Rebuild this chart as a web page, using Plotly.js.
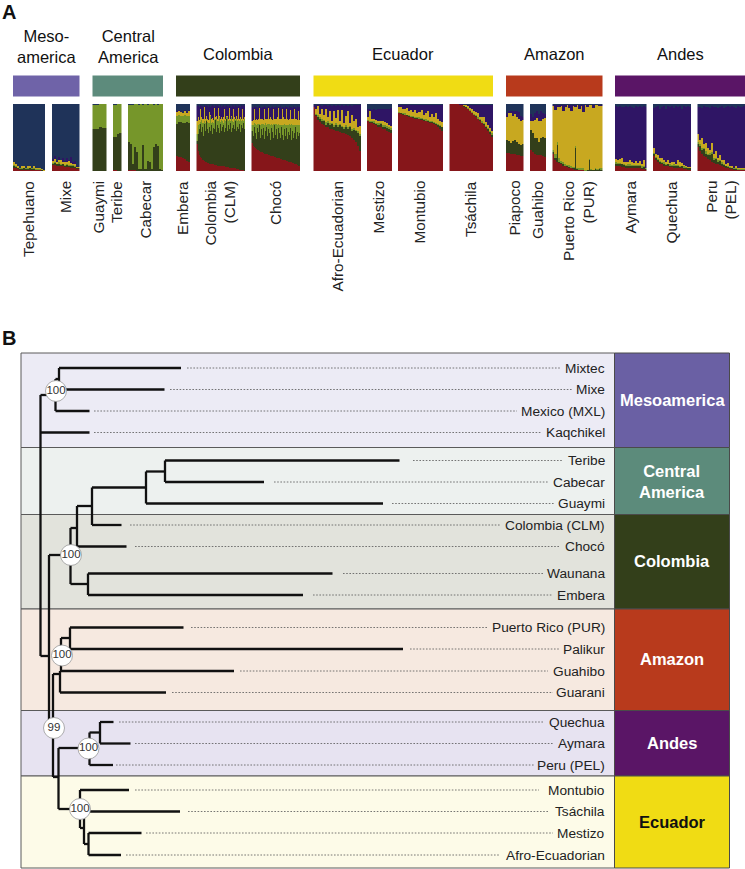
<!DOCTYPE html>
<html><head><meta charset="utf-8">
<script src="https://cdn.plot.ly/plotly-3.0.1.min.js"></script>
<style>html,body{margin:0;padding:0;background:#fff}#c{width:745px;height:869px}</style>
</head><body><div id="c"></div>
<script>
// ---------- Panel A: ancestry proportions (%) per sampled column; omitted cluster = remainder
const clusterNames=['red','dgreen','lgreen','yellow','purple','navy'];
const tepehuano_red=[4,4,3,2,2,2,2,2,2,2,2,1,1,1,0,0];
const tepehuano_dgreen=[3,2,1,1,1,2,1,1,2,1,1,1,1,1,1,0];
const tepehuano_lgreen=[2,2,1,1,1,1,1,1,1,1,2,1,1,1,1,0];
const tepehuano_yellow=[4,3,2,1,3,2,1,3,3,1,3,2,2,1,1,2];
const mixe_red=[9,9,8,8,7,7,6,6,6,5,5,4,3,3];
const mixe_dgreen=[2,3,2,3,2,3,2,3,2,3,3,2,1,1];
const mixe_lgreen=[1,1,1,2,1,1,1,2,1,1,1,1,1,1];
const mixe_yellow=[3,5,2,3,6,2,4,2,6,3,2,3,1,1];
const mixe_purple=[3,4,2,5,1,7,2,6,2,9,3,5,2,0];
const guaymi_dgreen=[62,62,63,65,65,64,64];
const guaymi_navy=[2,2,1,0,0,0,0];
const teribe_red=[1,1,0,0];
const teribe_dgreen=[50,50,55,56];
const teribe_navy=[2,1,0,0];
const cabecar_red=[2,2,2,1,0,0,0,0,0,0,0,0,0,0,0,0,0];
const cabecar_dgreen=[41,39,8,35,29,3,3,39,3,15,14,3,36,40,38,3,2];
const cabecar_navy=[1,1,2,0,0,1,0,2,0,1,0,0,1,0,1,0,0];
const embera_red=[22,21,21,20,18,15,14];
const embera_dgreen=[48,52,52,52,54,58,58];
const embera_lgreen=[12,10,9,10,11,9,10];
const embera_yellow=[6,7,6,4,7,5,8];
const embera_purple=[1,1,1,1,1,1,1];
const clm_red=[40,30,24,21,19,17,16,15,14,13,12,12,11,11,10,10,10,9,9,9,8,8,8,8,7,7,7,7,6,6,6,6,5,5,5,5,4,4,4,3,3,3,2,2,2,1,1,0];
const clm_dgreen=[5,25,38,49,39,49,36,55,46,61,51,44,55,49,58,45,54,53,67,49,60,56,48,62,53,59,61,51,58,72,54,62,57,67,53,59,64,58,70,57,63,59,68,56,66,63,71,62];
const clm_lgreen=[10,14,8,3,18,6,20,5,12,2,10,16,6,22,3,18,8,14,2,20,6,10,24,3,16,8,4,18,10,2,20,6,14,3,22,10,5,16,2,18,8,14,4,20,6,12,3,16];
const clm_yellow=[20,12,6,20,4,6,6,20,6,6,4,4,16,2,6,6,4,18,2,4,4,20,2,4,4,4,8,16,4,2,2,4,18,3,2,4,20,2,2,4,4,18,4,2,4,16,3,2];
const clm_navy=[3,2,4,2,3,3,5,2,3,2,3,4,2,5,3,2,3,4,2,3,2,3,5,2,4,3,2,5,3,2,3,4,2,3,5,2,3,4,2,3,5,2,3,4,2,3,2,3];
const choco_red=[42,38,36,34,33,32,31,30,29,28,28,27,26,26,25,25,24,24,23,23,22,22,21,21,20,20,19,19,18,18,17,17,16,16,15,15,14,14,13,13,12,12,11,10,10,9,8,7];
const choco_dgreen=[18,14,30,22,15,32,27,38,21,34,26,37,22,34,41,27,38,32,23,41,36,28,47,33,42,28,45,37,32,48,37,29,46,36,49,33,44,40,51,33,48,38,45,56,38,49,44,49];
const choco_lgreen=[8,16,5,14,20,6,12,2,18,8,16,6,20,12,3,18,8,14,22,6,10,20,2,16,8,20,6,12,18,3,14,22,8,16,4,20,10,16,5,24,8,18,12,3,20,10,16,12];
const choco_yellow=[6,8,22,6,10,6,8,24,10,8,8,6,24,6,9,8,24,8,12,8,8,22,8,8,8,12,24,10,10,9,24,12,8,10,24,10,8,8,22,8,10,10,24,9,10,8,22,8];
const choco_navy=[4,6,3,5,4,6,5,3,4,6,5,4,3,5,6,4,3,5,6,4,3,6,4,5,3,6,4,5,3,6,4,5,6,3,5,4,6,3,5,4,6,3,5,4,6,3,5,4];
const afro_red=[95,82,76,73,70,68,66,65,63,62,61,60,59,58,57,56,55,53,52,50,47,44,38,30];
const afro_dgreen=[0,2,4,5,4,6,3,7,5,8,5,9,6,10,8,6,11,10,13,9,14,15,18,22];
const afro_lgreen=[0,1,3,2,3,2,4,2,3,2,3,2,4,2,2,3,2,3,2,3,3,2,3,3];
const afro_yellow=[1,8,14,5,16,7,20,6,18,3,20,8,22,4,24,6,14,24,5,22,10,16,6,12];
const afro_navy=[1,2,1,2,3,2,2,3,2,3,2,3,2,3,2,3,2,3,2,3,2,2,2,2];
const mestizo_red=[74,72,71,70,68,66,65,63,62,60,58,56];
const mestizo_dgreen=[1,1,2,2,2,3,5,2,3,4,5,5];
const mestizo_lgreen=[1,2,1,2,2,3,2,4,3,3,3,3];
const mestizo_yellow=[4,14,4,3,4,2,3,6,5,4,3,3];
const mestizo_navy=[7,8,9,8,9,7,8,7,8,7,7,6];
const montubio_red=[86,85,84,83,82,81,80,79,78,77,77,76,75,74,73,72,71,70,68,66,63,60];
const montubio_dgreen=[1,1,1,1,1,1,1,1,1,2,1,2,1,1,2,1,2,1,2,2,4,5];
const montubio_lgreen=[1,1,1,2,1,2,1,2,1,2,2,1,2,2,1,2,1,2,1,2,1,1];
const montubio_yellow=[7,8,6,7,10,5,9,6,11,5,8,12,6,9,14,6,11,7,15,8,6,7];
const montubio_navy=[2,2,2,2,2,2,2,2,2,2,2,2,2,2,2,2,2,2,2,2,2,2];
const tsachila_red=[100,100,100,100,100,99,98,96,94,92,89,86,83,80,77,74,71,68,64,60,55,51];
const tsachila_dgreen=[0,0,0,0,0,0,0,1,1,1,1,1,1,2,1,2,1,2,2,2,3,3];
const tsachila_lgreen=[0,0,0,0,0,0,0,0,1,1,1,1,1,1,2,1,2,2,1,2,2,2];
const tsachila_yellow=[0,0,0,0,0,0,1,2,2,3,3,5,4,5,6,4,7,8,6,5,4,3];
const tsachila_navy=[0,0,0,0,0,0,0,1,1,1,1,1,1,1,1,1,1,1,1,1,1,1];
const piapoco_red=[27,27,26,25,25,24,24,23,23];
const piapoco_dgreen=[20,18,16,20,22,20,16,16,18];
const piapoco_yellow=[34,42,44,37,38,37,38,36,35];
const piapoco_purple=[6,3,4,8,5,9,10,7,4];
const guahibo_red=[31,29,26,24,24,24,22,21];
const guahibo_dgreen=[30,27,24,25,20,25,29,29];
const guahibo_yellow=[14,18,26,30,30,26,26,29];
const guahibo_purple=[10,7,10,10,11,14,9,6];
const pur_red=[26,17,14,12,10,8,7,6,5,4,3,2,2,1,1,1,0,0,0,0,0,0,0,0,0];
const pur_dgreen=[2,3,25,2,2,2,1,1,1,1,1,33,1,1,1,1,0,1,16,1,1,3,1,3,1];
const pur_lgreen=[4,6,4,5,3,4,3,2,3,2,2,2,2,2,3,2,2,1,2,2,1,2,2,1,3];
const pur_purple=[1,8,2,3,1,9,2,1,4,10,1,3,0,6,1,11,1,2,0,1,4,1,0,1,2];
const pur_navy=[2,1,2,1,2,1,2,1,2,1,2,1,2,1,2,1,1,2,1,1,2,1,1,2,1];
const aymara_red=[8,7,7,6,6,5,5,5,5,5,4,4,4,3,3,2];
const aymara_dgreen=[3,3,3,4,3,2,3,3,3,2,4,3,3,2,3,1];
const aymara_lgreen=[2,2,2,1,2,2,2,2,1,2,1,2,2,2,2,1];
const aymara_yellow=[5,4,6,8,3,4,3,6,5,3,6,3,6,3,8,1];
const aymara_navy=[3,5,3,4,5,3,5,3,4,6,3,4,3,5,3,4];
const quechua_red=[22,16,13,11,10,8,7,7,6,6,5,5,5,4,4,3,3,2,2];
const quechua_dgreen=[3,3,3,3,2,3,2,3,2,2,3,3,2,2,3,2,2,2,2];
const quechua_lgreen=[2,2,2,1,2,2,2,1,2,1,2,1,2,2,1,2,1,1,1];
const quechua_yellow=[8,5,6,4,6,3,3,6,2,5,3,2,7,5,4,2,2,1,1];
const quechua_navy=[6,4,3,8,4,3,7,3,5,3,6,3,4,3,8,3,4,3,5];
const pel_red=[36,30,26,23,21,18,16,14,12,11,10,9,7,6,5,4,3,3,2,2,1,1,1,1];
const pel_dgreen=[4,8,6,10,5,6,8,12,5,7,3,6,4,3,2,2,2,1,1,1,1,1,1,1];
const pel_lgreen=[3,2,3,2,4,2,3,2,3,2,3,2,2,2,1,2,1,1,1,1,1,1,1,1];
const pel_yellow=[12,6,15,5,12,8,4,14,6,10,4,7,3,5,2,4,2,3,1,3,1,2,1,1];
const pel_navy=[5,4,6,3,5,4,6,3,5,4,6,4,3,6,4,3,5,3,4,6,3,4,5,3];

const panelNames=['Tepehuano','Mixe','Guaymi','Teribe','Cabecar','Embera','Colombia<br>(CLM)','Chocó','Afro-Ecuadorian','Mestizo','Montubio','Tsáchila','Piapoco','Guahibo','Puerto Rico<br>(PUR)','Aymara','Quechua','Peru<br>(PEL)'];
const panelSeries=[
 {red:tepehuano_red,dgreen:tepehuano_dgreen,lgreen:tepehuano_lgreen,yellow:tepehuano_yellow,rest:'navy'},
 {red:mixe_red,dgreen:mixe_dgreen,lgreen:mixe_lgreen,yellow:mixe_yellow,purple:mixe_purple,rest:'navy'},
 {dgreen:guaymi_dgreen,navy:guaymi_navy,rest:'lgreen'},
 {red:teribe_red,dgreen:teribe_dgreen,navy:teribe_navy,rest:'lgreen'},
 {red:cabecar_red,dgreen:cabecar_dgreen,navy:cabecar_navy,rest:'lgreen'},
 {red:embera_red,dgreen:embera_dgreen,lgreen:embera_lgreen,yellow:embera_yellow,purple:embera_purple,rest:'navy'},
 {red:clm_red,dgreen:clm_dgreen,lgreen:clm_lgreen,yellow:clm_yellow,navy:clm_navy,rest:'purple'},
 {red:choco_red,dgreen:choco_dgreen,lgreen:choco_lgreen,yellow:choco_yellow,navy:choco_navy,rest:'purple'},
 {red:afro_red,dgreen:afro_dgreen,lgreen:afro_lgreen,yellow:afro_yellow,navy:afro_navy,rest:'purple'},
 {red:mestizo_red,dgreen:mestizo_dgreen,lgreen:mestizo_lgreen,yellow:mestizo_yellow,navy:mestizo_navy,rest:'purple'},
 {red:montubio_red,dgreen:montubio_dgreen,lgreen:montubio_lgreen,yellow:montubio_yellow,navy:montubio_navy,rest:'purple'},
 {red:tsachila_red,dgreen:tsachila_dgreen,lgreen:tsachila_lgreen,yellow:tsachila_yellow,navy:tsachila_navy,rest:'purple'},
 {red:piapoco_red,dgreen:piapoco_dgreen,yellow:piapoco_yellow,purple:piapoco_purple,rest:'navy'},
 {red:guahibo_red,dgreen:guahibo_dgreen,yellow:guahibo_yellow,purple:guahibo_purple,rest:'navy'},
 {red:pur_red,dgreen:pur_dgreen,lgreen:pur_lgreen,purple:pur_purple,navy:pur_navy,rest:'yellow'},
 {red:aymara_red,dgreen:aymara_dgreen,lgreen:aymara_lgreen,yellow:aymara_yellow,navy:aymara_navy,rest:'purple'},
 {red:quechua_red,dgreen:quechua_dgreen,lgreen:quechua_lgreen,yellow:quechua_yellow,navy:quechua_navy,rest:'purple'},
 {red:pel_red,dgreen:pel_dgreen,lgreen:pel_lgreen,yellow:pel_yellow,navy:pel_navy,rest:'purple'}
];

// ---------- Panel B: tree
const leafNames=['Mixtec','Mixe','Mexico (MXL)','Kaqchikel','Teribe','Cabecar','Guaymi','Colombia (CLM)','Chocó','Waunana','Embera','Puerto Rico (PUR)','Palikur','Guahibo','Guarani','Quechua','Aymara','Peru (PEL)','Montubio','Tsáchila','Mestizo','Afro-Ecuadorian'];
const leafRow=[368,389.5,411,432.5,460.5,482,503.5,525,546.5,573.5,595,627.5,649,671,692.5,722,743.5,765,790,811.5,833,855];
const leafTip=[181,164.5,89.5,89.5,399.5,264,383,121.5,126.5,332.5,303,183.5,403,234,166,113.5,130.5,113,129,180,141.5,121];
const leafBase=[59,59,55.5,40.5,165,165,146,92,77,88,88,70,70,61,60,100,100,89.5,80,80,88.5,88.5];
const dotStart=[187,170,94,94,413,274,392,130,135,343,313,191,410,240,172,119,135,116,135,188,146,126];
const dotEnd=[560,572,517,541,563,548,554,500.5,560,543,553,488.5,560,548,553,544.5,554,535,539,549.5,553,500];
// internal tree branches: [x1,y1,x2,y2]
const branches=[
 [59,368,59,389.5],[55.5,379,59,379],[55.5,379,55.5,411],[40.5,395,55.5,395],[40.5,395,40.5,656],[40.5,656,49,656],
 [49,555,49,728],[49,555,70.5,555],[70.5,528,70.5,584],[70.5,528,77,528],[77,506,77,546.5],[77,506,92,506],[92,487.5,92,525],
 [92,487.5,146,487.5],[146,471.5,146,503.5],[146,471.5,165,471.5],[165,460.5,165,482],[70.5,584,88,584],[88,573.5,88,595],
 [49,728,53,728],[53,674,53,777],[53,674,60,674],[60,671,60,692.5],[61,638,61,671],[61,638,70,638],[70,627.5,70,649],
 [53,777,58.5,777],[58.5,748,58.5,809],[58.5,748,89.5,748],[89.5,732.5,89.5,765],[89.5,732.5,100,732.5],[100,722,100,743.5],
 [58.5,809,80,809],[80,790,80,828],[80,828,84,828],[84,815,84,844],[84,844,88.5,844],[88.5,833,88.5,855]
];
const supportX=[56,71,62,54,88.5,80];
const supportY=[391,555,655.5,728,748.5,809];
const supportText=['100','100','100','99','100','100'];

// ---------- Labels / regions
const groupNames=['Meso-<br>america','Central<br>America','Colombia','Ecuador','Amazon','Andes'];
const groupColors=['#6f63a8','#5d8b7c','#333f1a','#f0dc14','#b83a1c','#5a1566'];
const regionNames=['Mesoamerica','Central<br>America','Colombia','Amazon','Andes','Ecuador'];
const regionFills=['#ecebf5','#edf1ef','#e2e3dc','#f6e9e0','#e7e3f1','#fdfbe8'];
const regionColors=['#6a60a4','#5c8b7b','#333f1a','#b83a1c','#5a1566','#f0dc14'];

// ---------- Layout geometry (page pixels)
const W=745,H=869,FONT='"Liberation Sans",Arial,sans-serif';
const panelX=[[13,45.3],[52,79.5],[92.5,106.5],[113,121.5],[128,163],[176,190],[196.5,245],[251.5,300],[313.5,361],[367,392],[398,443],[449.5,493],[506,523.5],[530,546],[552.5,602.5],[615,646.5],[653,691],[697.5,745]];
const labelX=[28,65,98,116,144.5,182,220,275,337,378,419,470,514,537,578,630,671,721];
const groupX=[[13,79.5],[92.5,163],[176,300],[313.5,493],[506,602.5],[615,745]];
const groupTitleX=[46.5,128,238,403,554,680];
const groupTitleY=[46.5,46.5,54,54,54,54];
const regionY=[353,447.5,514.5,609,710.5,776,868];
const regionLabelY=[400,481,561,659,743,822];
const clusterColor={red:'#86161a',dgreen:'#333f1a',lgreen:'#76962a',yellow:'#c8a820',purple:'#2f1565',navy:'#1f3359'};

const traces=[];const layout={
 width:W,height:H,margin:{l:0,r:0,t:0,b:0},showlegend:false,barmode:'stack',bargap:0,
 paper_bgcolor:'#fff',plot_bgcolor:'rgba(0,0,0,0)',hovermode:false,
 font:{family:FONT,color:'#111'},
 xaxis:{range:[0,W],domain:[0,1],visible:false,fixedrange:true},
 yaxis:{range:[H,0],domain:[0,1],visible:false,fixedrange:true},
 yaxis2:{range:[0,100],domain:[1-171/H,1-104/H],visible:false,fixedrange:true},
 shapes:[],annotations:[]
};
const ann=(x,y,text,o)=>layout.annotations.push(Object.assign({x,y,text,xref:'x',yref:'y',showarrow:false,borderpad:0},o));

// structure panels
panelSeries.forEach((s,i)=>{
  const id=i+2,ax='xaxis'+id,n=s[Object.keys(s).find(k=>k!=='rest')].length;
  layout[ax]={domain:[panelX[i][0]/W,panelX[i][1]/W],range:[-0.5,n-0.5],visible:false,anchor:'y2',fixedrange:true};
  const cols=[...Array(n).keys()];
  clusterNames.forEach(c=>{
    let y;
    if(c===s.rest) y=cols.map(j=>Math.max(0,100-clusterNames.filter(k=>k!==c&&s[k]).reduce((a,k)=>a+s[k][j],0)));
    else if(s[c]) y=s[c]; else return;
    traces.push({type:'bar',x:cols,y,xaxis:'x'+id,yaxis:'y2',marker:{color:clusterColor[c],line:{width:0}},width:1.02});
  });
  ann(labelX[i],180,panelNames[i],{textangle:-90,xanchor:'center',yanchor:'top',align:'right',font:{size:15.3,color:'#222'}});
});

// group bars + titles
groupX.forEach((g,i)=>{
  layout.shapes.push({type:'rect',xref:'x',yref:'y',x0:g[0],x1:g[1],y0:75.5,y1:96.5,fillcolor:groupColors[i],line:{width:0},layer:'below'});
  ann(groupTitleX[i],groupTitleY[i],groupNames[i],{xanchor:'center',yanchor:'middle',font:{size:16.5,color:'#111'}});
});

// regions
regionFills.forEach((f,i)=>{
  layout.shapes.push({type:'rect',xref:'x',yref:'y',x0:21,x1:614.5,y0:regionY[i],y1:regionY[i+1],fillcolor:f,line:{color:'#5a5a5a',width:1},layer:'below'});
  layout.shapes.push({type:'rect',xref:'x',yref:'y',x0:614.5,x1:729.5,y0:regionY[i],y1:regionY[i+1],fillcolor:regionColors[i],line:{color:'#4a4a4a',width:1},layer:'below'});
  ann(672,regionLabelY[i],regionNames[i],{xanchor:'center',yanchor:'middle',font:{size:16.5,color:i===5?'#111':'#fff',weight:700}});
});

// dotted leaders
const dx=[],dy=[];leafRow.forEach((y,i)=>{dx.push(dotStart[i],dotEnd[i],null);dy.push(y,y,null);});
traces.push({type:'scatter',mode:'lines',x:dx,y:dy,line:{color:'#555',width:0.8,dash:'1.6px,1.6px'}});
// tree
const tx=[],ty=[];
branches.forEach(b=>{tx.push(b[0],b[2],null);ty.push(b[1],b[3],null);});
leafRow.forEach((y,i)=>{tx.push(leafBase[i],leafTip[i],null);ty.push(y,y,null);});
traces.push({type:'scatter',mode:'lines',x:tx,y:ty,line:{color:'#111',width:2.3}});
// support nodes
traces.push({type:'scatter',mode:'markers+text',x:supportX,y:supportY,text:supportText,textposition:'middle center',
  textfont:{size:11.5,color:'#333',family:FONT},marker:{size:21,color:'#fff',line:{color:'#999',width:0.8}}});
// leaf labels
leafNames.forEach((n,i)=>ann(605.7,leafRow[i],n,{xanchor:'right',yanchor:'middle',font:{size:13.7,color:'#222'}}));
ann(1,11.5,'A',{xanchor:'left',yanchor:'middle',font:{size:20,color:'#111',weight:700}});
ann(1,338,'B',{xanchor:'left',yanchor:'middle',font:{size:20,color:'#111',weight:700}});

Plotly.newPlot('c',traces,layout,{displayModeBar:false,staticPlot:true});
</script></body></html>
